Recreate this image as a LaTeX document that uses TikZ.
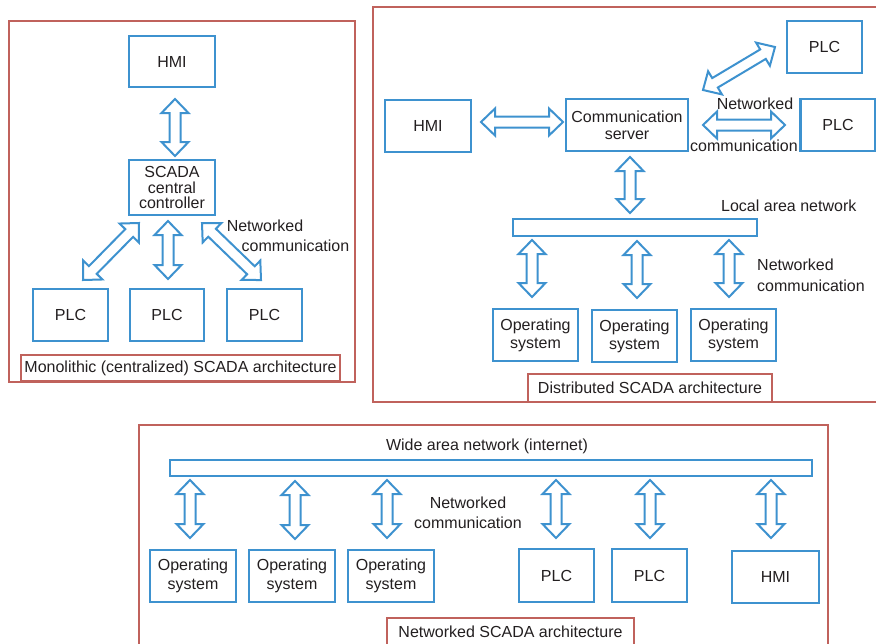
\documentclass[tikz,border=0pt]{standalone}
\usepackage{fontspec}
\setmainfont{Liberation Sans}
\usetikzlibrary{calc}
\definecolor{bl}{RGB}{62,146,207}
\definecolor{rd}{RGB}{192,98,92}
\definecolor{tx}{RGB}{35,31,32}
\tikzset{
  box/.style={draw=bl, line width=2.4pt, fill=white, align=center, inner sep=0pt, text=tx},
  frame/.style={draw=rd, line width=2pt},
  lbl/.style={text=tx, inner sep=0pt, align=center},
  arr/.style={draw=bl, line width=2pt, fill=white, line join=miter},
}
\newcommand{\darr}[2]{%
  \coordinate (pp) at ($(#1)!14pt!(#2)$);
  \coordinate (qq) at ($(#2)!14pt!(#1)$);
  \draw[arr] (#1) -- ($(pp)!13.5pt!90:(#2)$) -- ($(pp)!5.5pt!90:(#2)$) -- ($(qq)!5.5pt!-90:(#1)$) -- ($(qq)!13.5pt!-90:(#1)$) -- (#2)
    -- ($(qq)!13.5pt!90:(#1)$) -- ($(qq)!5.5pt!90:(#1)$) -- ($(pp)!5.5pt!-90:(#2)$) -- ($(pp)!13.5pt!-90:(#2)$) -- cycle;}
\begin{document}
\begin{tikzpicture}[x=1pt,y=-1pt,font=\fontsize{16}{17}\selectfont]
\useasboundingbox (0,0) rectangle (876,643);
\clip (0,0) rectangle (876,643);
% ---------- Panel 1: monolithic
\draw[frame] (9,21) rectangle (355,382);
\node[box, minimum width=86pt, minimum height=51pt] (hmi1) at (172,61.5) {HMI};
\node[box, minimum width=86pt, minimum height=55pt, font=\fontsize{16}{15.5}\selectfont] (scada) at (172,187.5) {SCADA\\central\\controller};
\node[box, minimum width=75pt, minimum height=52pt] (plc1a) at (70.5,315) {PLC};
\node[box, minimum width=74pt, minimum height=52pt] (plc1b) at (167,315) {PLC};
\node[box, minimum width=75pt, minimum height=52pt] (plc1c) at (264.5,315) {PLC};
\coordinate (a1s) at (175,99); \coordinate (a1e) at (175,156);
\coordinate (a2s) at (168,221); \coordinate (a2e) at (168,279);
\coordinate (a3s) at (139,223); \coordinate (a3e) at (83,280);
\coordinate (a4s) at (202,223); \coordinate (a4e) at (261,280);
\darr{a1s}{a1e}
\darr{a2s}{a2e}
\darr{a3s}{a3e}
\darr{a4s}{a4e}
\node[lbl] (nw1) at (265,226) {Networked};
\node[lbl] (nc1) at (295.5,246) {communication};
\node[frame, minimum width=319pt, minimum height=26pt, inner sep=0pt, text=tx] (l1) at (180.5,368) {Monolithic (centralized) SCADA architecture};
% ---------- Panel 2: distributed
\draw[frame] (373,7) rectangle (885,402);
\node[box, minimum width=86pt, minimum height=52pt] (hmi2) at (428,126) {HMI};
\node[box, minimum width=122pt, minimum height=52pt, font=\fontsize{16}{17}\selectfont] (comm) at (627,125) {Communication\\server};
\node[box, minimum width=75pt, minimum height=52pt] (plc2a) at (824.5,47) {PLC};
\node[box, minimum width=75pt, minimum height=52pt] (plc2b) at (838,125) {PLC};
\coordinate (b1s) at (481,122); \coordinate (b1e) at (563,122);
\coordinate (b2s) at (703,125); \coordinate (b2e) at (785,125);
\coordinate (b3s) at (703,90); \coordinate (b3e) at (775,47);
\coordinate (b4s) at (630,157); \coordinate (b4e) at (630,213);
\darr{b1s}{b1e}
\darr{b2s}{b2e}
\darr{b3s}{b3e}
\darr{b4s}{b4e}
\node[lbl] (nw2) at (755,104) {Networked};
\node[lbl] (nc2) at (744,146) {communication};
\node[box, minimum width=244pt, minimum height=17pt] (lan) at (635,227.5) {};
\node[lbl, anchor=west] (lant) at (721,206) {Local area network};
\coordinate (c1s) at (532,240); \coordinate (c1e) at (532,297);
\coordinate (c2s) at (637,241); \coordinate (c2e) at (637,298);
\coordinate (c3s) at (729,240); \coordinate (c3e) at (729,297);
\darr{c1s}{c1e}
\darr{c2s}{c2e}
\darr{c3s}{c3e}
\node[lbl, anchor=west] (nw3) at (757,265) {Networked};
\node[lbl, anchor=west] (nc3) at (757,286) {communication};
\node[box, minimum width=85pt, minimum height=52pt, font=\fontsize{16}{18}\selectfont] (os1) at (535.5,335) {Operating\\system};
\node[box, minimum width=85pt, minimum height=52pt, font=\fontsize{16}{18}\selectfont] (os2) at (634.5,336) {Operating\\system};
\node[box, minimum width=85pt, minimum height=52pt, font=\fontsize{16}{18}\selectfont] (os3) at (733.5,335) {Operating\\system};
\node[frame, minimum width=244pt, minimum height=28pt, inner sep=0pt, text=tx] (l2) at (650,388) {Distributed SCADA architecture};
% ---------- Panel 3: networked
\draw[frame] (139,425) rectangle (828,660);
\node[box, minimum width=642pt, minimum height=16pt] (wan) at (491,468) {};
\node[lbl] (want) at (487,446) {Wide area network (internet)};
\coordinate (d1s) at (190,480); \coordinate (d1e) at (190,538);
\coordinate (d2s) at (295,481); \coordinate (d2e) at (295,539);
\coordinate (d3s) at (387,480); \coordinate (d3e) at (387,538);
\coordinate (d4s) at (556,480); \coordinate (d4e) at (556,538);
\coordinate (d5s) at (650,480); \coordinate (d5e) at (650,538);
\coordinate (d6s) at (771,480); \coordinate (d6e) at (771,538);
\darr{d1s}{d1e}
\darr{d2s}{d2e}
\darr{d3s}{d3e}
\darr{d4s}{d4e}
\darr{d5s}{d5e}
\darr{d6s}{d6e}
\node[lbl] (nw4) at (468,503) {Networked};
\node[lbl] (nc4) at (468,523) {communication};
\node[box, minimum width=86pt, minimum height=52pt, font=\fontsize{16}{19}\selectfont] (os4) at (193,576) {Operating\\system};
\node[box, minimum width=86pt, minimum height=52pt, font=\fontsize{16}{19}\selectfont] (os5) at (292,576) {Operating\\system};
\node[box, minimum width=86pt, minimum height=52pt, font=\fontsize{16}{19}\selectfont] (os6) at (391,576) {Operating\\system};
\node[box, minimum width=75pt, minimum height=53pt] (plc3a) at (556.5,575.5) {PLC};
\node[box, minimum width=75pt, minimum height=53pt] (plc3b) at (649.5,575.5) {PLC};
\node[box, minimum width=87pt, minimum height=52pt] (hmi3) at (775.5,577) {HMI};
\draw[frame] (387,618) rectangle (634,660);
\node[lbl] (l3) at (510.5,632) {Networked SCADA architecture};
\end{tikzpicture}
\end{document}
